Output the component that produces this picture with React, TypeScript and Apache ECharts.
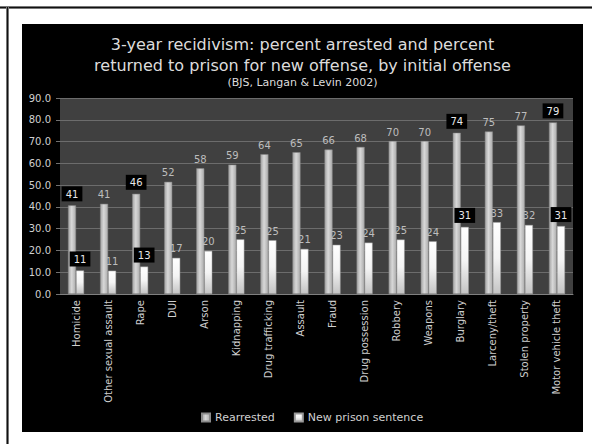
import React, { useEffect, useRef } from "react";
import * as echarts from "echarts";

const categories = [
  "Homicide", "Other sexual assault", "Rape", "DUI", "Arson", "Kidnapping",
  "Drug trafficking", "Assault", "Fraud", "Drug possession", "Robbery",
  "Weapons", "Burglary", "Larceny/theft", "Stolen property", "Motor vehicle theft",
];
const rearrested = [40.7, 41.4, 46.0, 51.5, 57.7, 59.4, 64.2, 65.1, 66.3, 67.5, 70.2, 70.2, 74.0, 74.6, 77.4, 78.8];
const newPrison = [10.8, 10.7, 12.6, 16.6, 19.8, 25.1, 24.7, 20.7, 22.6, 23.6, 25.0, 24.2, 30.8, 33.0, 31.7, 31.2];
const boxedIdx = [0, 2, 12, 15];
const seriesNames = ["Rearrested", "New prison sentence"];
const yTicks = { min: 0, max: 90, interval: 10 };

const FONT = "DejaVu Sans";

function makeData(vals: number[]) {
  return vals.map((v, i) =>
    boxedIdx.includes(i)
      ? {
          value: v,
          label: {
            backgroundColor: "#000000",
            color: "#e8e8e8",
            padding: [3, 4, 2, 4],
          },
        }
      : v
  );
}

export default function App() {
  const ref = useRef<HTMLDivElement>(null);
  useEffect(() => {
    if (!ref.current) return;
    const chart = echarts.init(ref.current, undefined, { renderer: "svg" });
    const labelCommon = {
      show: true,
      position: "top",
      distance: 4,
      color: "#bdbdbd",
      fontSize: 10,
      fontFamily: FONT,
      formatter: (p: any) => String(Math.round(p.value)),
    };
    chart.setOption({
      animation: false,
      backgroundColor: "#000000",
      title: [
        {
          text: "3-year recidivism: percent arrested and percent\nreturned to prison for new offense, by initial offense",
          left: "center",
          top: 5,
          textStyle: {
            color: "#dcdcdc",
            fontSize: 16,
            fontWeight: "normal",
            fontFamily: FONT,
            lineHeight: 21,
          },
        },
        {
          text: "(BJS, Langan & Levin 2002)",
          left: "center",
          top: 48,
          textStyle: {
            color: "#dcdcdc",
            fontSize: 11,
            fontWeight: "normal",
            fontFamily: FONT,
          },
        },
      ],
      legend: {
        bottom: 4,
        left: 174,
        itemWidth: 8,
        itemHeight: 8,
        itemGap: 19,
        icon: "rect",
        textStyle: { color: "#d0d0d0", fontSize: 11, fontFamily: FONT },
        data: seriesNames,
      },
      grid: {
        left: 38,
        right: 10,
        top: 74,
        bottom: 138,
        show: true,
        backgroundColor: "#404040",
        borderWidth: 0,
      },
      xAxis: {
        type: "category",
        data: categories,
        axisLine: { show: true, lineStyle: { color: "#808080", width: 1 } },
        axisTick: { show: false },
        axisLabel: {
          rotate: 90,
          interval: 0,
          color: "#cfcfcf",
          fontSize: 10,
          fontFamily: FONT,
          margin: 6,
        },
      },
      yAxis: {
        type: "value",
        min: yTicks.min,
        max: yTicks.max,
        interval: yTicks.interval,
        axisLine: { show: false },
        axisTick: { show: true, length: 4, lineStyle: { color: "#707070" } },
        splitLine: { show: true, lineStyle: { color: "#6c6c6c", width: 1 } },
        axisLabel: {
          color: "#d0d0d0",
          fontSize: 10,
          fontFamily: FONT,
          margin: 9,
          formatter: (v: number) => v.toFixed(1),
        },
      },
      series: [
        {
          name: seriesNames[0],
          type: "bar",
          barWidth: 8,
          barGap: "0%",
          data: makeData(rearrested),
          itemStyle: {
            color: new echarts.graphic.LinearGradient(0, 0, 1, 0, [
              { offset: 0, color: "#a4a4a4" },
              { offset: 0.45, color: "#d8d8d8" },
              { offset: 1, color: "#acacac" },
            ]),
            borderColor: "#8a8a8a",
            borderWidth: 0.5,
          },
          label: labelCommon,
        },
        {
          name: seriesNames[1],
          type: "bar",
          barWidth: 8,
          barGap: "0%",
          data: makeData(newPrison),
          itemStyle: {
            color: new echarts.graphic.LinearGradient(0, 0, 0, 1, [
              { offset: 0, color: "#ffffff" },
              { offset: 0.5, color: "#f4f4f4" },
              { offset: 1, color: "#c4c4c4" },
            ]),
            borderColor: "#9a9a9a",
            borderWidth: 0.5,
          },
          label: labelCommon,
        },
      ],
    });
    return () => chart.dispose();
  }, []);

  return (
    <div
      style={{
        position: "fixed",
        left: 0,
        top: 0,
        width: 592,
        height: 444,
        background: "#ffffff",
        overflow: "hidden",
      }}
    >
      <div style={{ position: "absolute", left: 0, top: 6, width: 592, height: 3, background: "#777" }} />
      <div style={{ position: "absolute", left: 0, top: 7, width: 592, height: 1, background: "#111" }} />
      <div style={{ position: "absolute", left: 6, top: 6, width: 3, height: 438, background: "#777" }} />
      <div style={{ position: "absolute", left: 7, top: 7, width: 1, height: 437, background: "#111" }} />
      <div
        ref={ref}
        style={{ position: "absolute", left: 22, top: 24, width: 561, height: 408 }}
      />
    </div>
  );
}
